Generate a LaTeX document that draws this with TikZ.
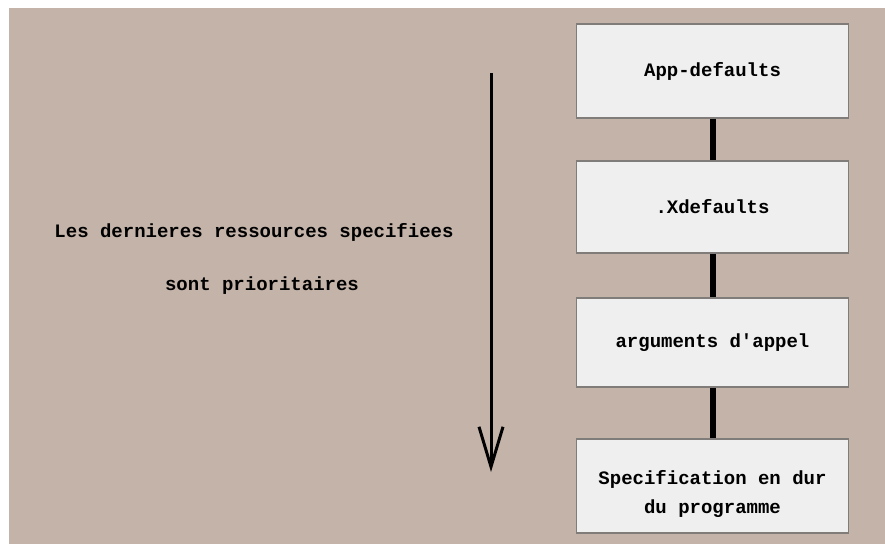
\documentclass[tikz,border=0pt]{standalone}
\usepackage{fontspec}
\setmonofont{Liberation Mono}
\usetikzlibrary{arrows.meta}
\definecolor{bgtan}{RGB}{196,179,168}
\definecolor{boxfill}{RGB}{239,239,239}
\definecolor{boxedge}{RGB}{128,124,122}
\begin{document}
\begin{tikzpicture}[x=1pt,y=-1pt,
  stagebox/.style={draw=boxedge,line width=1.6pt,fill=boxfill,minimum width=272pt,inner sep=0pt,
     font=\fontsize{19}{29}\selectfont\ttfamily\bfseries,align=center},
  link/.style={line width=6pt,black},
  lbl/.style={font=\fontsize{19}{23}\selectfont\ttfamily\bfseries,inner sep=0pt}]
\useasboundingbox (0,0) rectangle (885,544);
\fill[white] (0,0) rectangle (885,544);
\fill[bgtan] (9,8) rectangle (885,544);
\node[stagebox,minimum height=94pt] (a) at (712.5,71) {App-defaults};
\node[stagebox,minimum height=92pt] (b) at (712.5,207) {.Xdefaults};
\node[stagebox,minimum height=89pt] (c) at (712.5,342.5) {arguments d'appel};
\node[stagebox,minimum height=94pt,text height=54pt,text depth=0pt] (d) at (712.5,486) {Specification en dur\\du programme};
\draw[link] (a.south) -- (b.north);
\draw[link] (b.south) -- (c.north);
\draw[link] (c.south) -- (d.north);
\node[lbl] (t1) at (254,232) {Les dernieres ressources specifiees};
\node[lbl] (t2) at (262,286) {sont prioritaires};
\coordinate (top) at (491,73);
\coordinate (bot) at (491,472);
\draw[line width=3pt,black,-{Straight Barb[length=40pt,width=24pt,line width=3pt]}] (top) -- (bot);
\end{tikzpicture}
\end{document}
